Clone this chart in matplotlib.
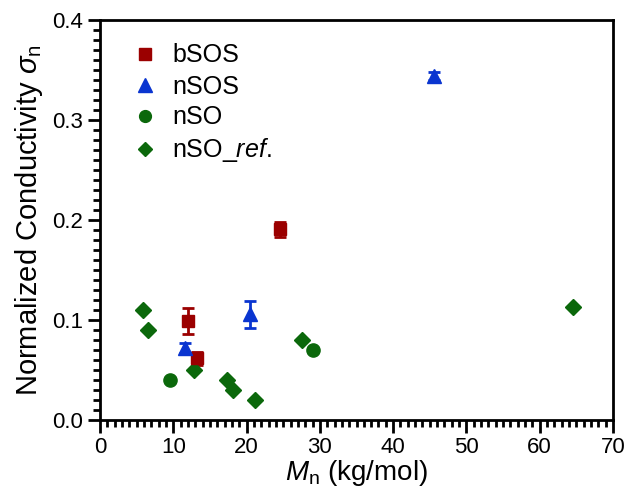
import matplotlib
matplotlib.use("Agg")
import matplotlib.pyplot as plt
from matplotlib.ticker import MultipleLocator
from matplotlib.lines import Line2D

plt.rcParams['font.family'] = ['Liberation Sans', 'DejaVu Sans']
plt.rcParams['mathtext.fontset'] = 'custom'
plt.rcParams['mathtext.rm'] = 'Liberation Sans'
plt.rcParams['mathtext.it'] = 'Liberation Sans:italic'

# data
bsos_x = [12.0, 13.2, 24.5]
bsos_y = [0.099, 0.062, 0.191]
bsos_err = [0.013, 0.0065, 0.0075]

nsos_x = [11.6, 20.4, 45.6]
nsos_y = [0.072, 0.106, 0.344]
nsos_err = [0.005, 0.0135, 0.004]

nso_x = [9.5, 29.1]
nso_y = [0.040, 0.070]

ref_x = [5.8, 6.6, 12.8, 17.3, 18.1, 21.1, 27.6, 64.5]
ref_y = [0.110, 0.090, 0.050, 0.040, 0.030, 0.020, 0.080, 0.113]

series_labels = ['bSOS', 'nSOS', 'nSO', 'nSO_$\\mathit{ref.}$']

red = '#9B0000'
blue = '#0A35D0'
green = '#0B680B'

fig = plt.figure(figsize=(6.24, 4.93), dpi=100)
ax = fig.add_axes([100/624, 73/493, 513/624, 400/493])

ax.errorbar(bsos_x, bsos_y, yerr=bsos_err, fmt='s', color=red, ms=9,
            capsize=4, elinewidth=2, capthick=2, zorder=3)
ax.errorbar(nsos_x, nsos_y, yerr=nsos_err, fmt='^', color=blue, ms=10,
            capsize=4, elinewidth=2, capthick=2, zorder=3)
ax.plot(nso_x, nso_y, 'o', color=green, ms=9.5, zorder=3)
ax.plot(ref_x, ref_y, 'D', color=green, ms=8.5, zorder=3)

ax.set_xlim(0, 70)
ax.set_ylim(0, 0.4)
ax.xaxis.set_major_locator(MultipleLocator(10))
ax.xaxis.set_minor_locator(MultipleLocator(1))
ax.yaxis.set_major_locator(MultipleLocator(0.1))
ax.yaxis.set_minor_locator(MultipleLocator(0.01))
ax.yaxis.set_major_formatter(plt.FuncFormatter(lambda v, p: f'{v:.1f}'))

ax.tick_params(which='major', direction='out', length=9, width=2, labelsize=16)
ax.tick_params(which='minor', direction='out', length=5, width=2)
ax.tick_params(top=False, right=False)
for s in ax.spines.values():
    s.set_linewidth(2)

ax.set_xlabel('$M_\\mathrm{n}$ (kg/mol)', fontsize=20, labelpad=0)
ax.set_ylabel('Normalized Conductivity $\\mathit{\\sigma}_\\mathrm{n}$', fontsize=21, labelpad=5)

leg_handles = [
    Line2D([], [], marker='s', color=red, ls='', ms=8.5),
    Line2D([], [], marker='^', color=blue, ls='', ms=10),
    Line2D([], [], marker='o', color=green, ls='', ms=8.5),
    Line2D([], [], marker='D', color=green, ls='', ms=7.5),
]
ax.legend(leg_handles, series_labels, loc='upper left', frameon=False, fontsize=18,
          handletextpad=0.3, labelspacing=0.28, borderaxespad=0.3,
          handlelength=1.6, bbox_to_anchor=(0.014, 0.985))

fig.savefig('out.png', dpi=100)
